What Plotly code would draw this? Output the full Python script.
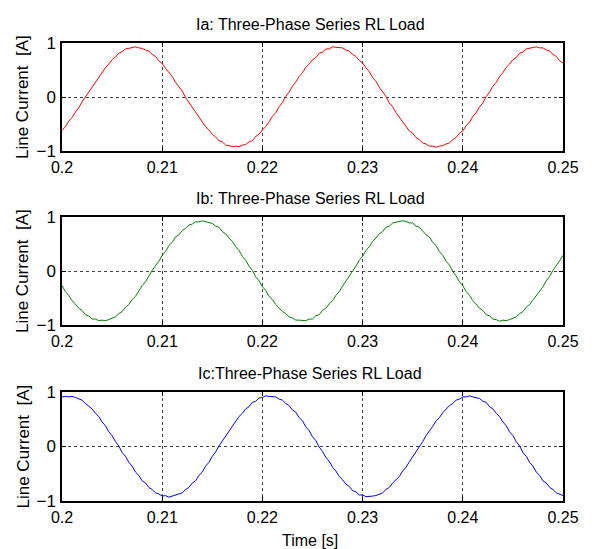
import numpy as np
import plotly.graph_objects as go

ia = [-0.62, -0.55, -0.45, -0.38, -0.28, -0.20, -0.09, 0.00, 0.11, 0.19, 0.29, 0.36, 0.47, 0.54, 0.61, 0.69, 0.74, 0.81, 0.84, 0.89,
      0.90, 0.92, 0.93, 0.91, 0.90, 0.87, 0.85, 0.79, 0.75, 0.67, 0.62, 0.53, 0.46, 0.38, 0.27, 0.19, 0.11, -0.01, -0.10, -0.20,
      -0.28, -0.38, -0.45, -0.55, -0.61, -0.69, -0.74, -0.81, -0.83, -0.89, -0.90, -0.92, -0.91, -0.92, -0.89, -0.88, -0.83, -0.81, -0.73, -0.69,
      -0.61, -0.55, -0.46, -0.36, -0.29, -0.18, -0.10, 0.01, 0.09, 0.20, 0.28, 0.38, 0.45, 0.55, 0.61, 0.69, 0.73, 0.81, 0.83, 0.89,
      0.89, 0.93, 0.92, 0.92, 0.91, 0.87, 0.85, 0.79, 0.75, 0.68, 0.63, 0.54, 0.47, 0.36, 0.29, 0.18, 0.10, 0.01, -0.11, -0.18,
      -0.29, -0.37, -0.47, -0.53, -0.63, -0.67, -0.75, -0.79, -0.85, -0.87, -0.91, -0.91, -0.93, -0.91, -0.90, -0.87, -0.85, -0.79, -0.75, -0.67,
      -0.63, -0.53, -0.47, -0.36, -0.29, -0.18, -0.11, 0.01, 0.09, 0.20, 0.27, 0.38, 0.45, 0.55, 0.61, 0.69, 0.73, 0.81, 0.83, 0.89,
      0.90, 0.92, 0.93, 0.91, 0.91, 0.87, 0.85, 0.79, 0.75, 0.67, 0.63]

ib = [-0.27, -0.38, -0.45, -0.55, -0.61, -0.69, -0.73, -0.81, -0.83, -0.89, -0.89, -0.92, -0.91, -0.92, -0.90, -0.87, -0.85, -0.79, -0.75, -0.67,
      -0.62, -0.53, -0.47, -0.37, -0.27, -0.20, -0.09, 0.01, 0.10, 0.18, 0.29, 0.36, 0.47, 0.53, 0.63, 0.67, 0.75, 0.79, 0.85, 0.87,
      0.91, 0.91, 0.93, 0.91, 0.90, 0.88, 0.83, 0.81, 0.73, 0.69, 0.61, 0.55, 0.45, 0.38, 0.27, 0.20, 0.09, 0.01, -0.11, -0.18,
      -0.29, -0.36, -0.47, -0.53, -0.62, -0.68, -0.75, -0.79, -0.85, -0.87, -0.91, -0.91, -0.92, -0.92, -0.89, -0.89, -0.83, -0.81, -0.73, -0.69,
      -0.61, -0.55, -0.45, -0.38, -0.28, -0.19, -0.11, 0.00, 0.09, 0.20, 0.27, 0.38, 0.45, 0.55, 0.61, 0.69, 0.73, 0.81, 0.83, 0.89,
      0.90, 0.92, 0.93, 0.92, 0.89, 0.89, 0.83, 0.81, 0.74, 0.67, 0.63, 0.53, 0.47, 0.36, 0.29, 0.18, 0.11, -0.01, -0.09, -0.20,
      -0.27, -0.38, -0.45, -0.55, -0.61, -0.69, -0.73, -0.81, -0.83, -0.89, -0.90, -0.93, -0.91, -0.92, -0.90, -0.87, -0.85, -0.79, -0.75, -0.67,
      -0.62, -0.54, -0.46, -0.37, -0.29, -0.18, -0.10, 0.01, 0.09, 0.19, 0.29]

ic = [0.91, 0.92, 0.91, 0.92, 0.90, 0.87, 0.85, 0.79, 0.74, 0.69, 0.61, 0.55, 0.45, 0.38, 0.27, 0.20, 0.09, 0.01, -0.11, -0.18,
      -0.29, -0.36, -0.47, -0.53, -0.63, -0.67, -0.75, -0.79, -0.85, -0.87, -0.91, -0.90, -0.93, -0.91, -0.90, -0.87, -0.85, -0.79, -0.75, -0.67,
      -0.63, -0.53, -0.47, -0.36, -0.29, -0.18, -0.10, 0.01, 0.10, 0.18, 0.29, 0.37, 0.45, 0.55, 0.61, 0.69, 0.73, 0.81, 0.83, 0.89,
      0.90, 0.93, 0.92, 0.91, 0.91, 0.87, 0.85, 0.79, 0.75, 0.67, 0.63, 0.53, 0.47, 0.36, 0.29, 0.18, 0.11, -0.01, -0.09, -0.20,
      -0.27, -0.38, -0.45, -0.55, -0.61, -0.69, -0.73, -0.81, -0.83, -0.89, -0.89, -0.92, -0.92, -0.91, -0.90, -0.87, -0.85, -0.79, -0.75, -0.67,
      -0.61, -0.55, -0.45, -0.38, -0.28, -0.19, -0.11, 0.00, 0.09, 0.20, 0.28, 0.37, 0.47, 0.53, 0.62, 0.68, 0.75, 0.79, 0.85, 0.87,
      0.91, 0.91, 0.93, 0.91, 0.90, 0.88, 0.83, 0.81, 0.73, 0.69, 0.61, 0.55, 0.45, 0.38, 0.27, 0.20, 0.09, 0.01, -0.11, -0.18,
      -0.29, -0.36, -0.47, -0.53, -0.63, -0.67, -0.75, -0.79, -0.85, -0.87, -0.90]

t_start, t_end = 0.2, 0.25
time = np.linspace(t_start, t_end, len(ia))

titles = ["Ia: Three-Phase Series RL Load", "Ib: Three-Phase Series RL Load", "Ic:Three-Phase Series RL Load"]
series = [ia, ib, ic]
colors = ["#ff0000", "#008000", "#0000ff"]
x_ticks = [0.2, 0.21, 0.22, 0.23, 0.24, 0.25]
x_tick_text = ["0.2", "0.21", "0.22", "0.23", "0.24", "0.25"]
y_ticks = [-1, 0, 1]

# page has an 8px body margin: the figure is drawn 8px smaller and offset
OFF = 8
W, H = 597 - OFF, 549 - OFF
boxes = [(43 - OFF, 151 - OFF), (217 - OFF, 325 - OFF), (392 - OFF, 501 - OFF)]
left_px, right_px = 62 - OFF, 563 - OFF
title_y_px = [25 - OFF, 198 - OFF, 373 - OFF]
ylab_x = 23 - OFF
title_x = 310 - OFF
xlab_y = 540 - OFF

FONT = "Liberation Sans, Arial, sans-serif"

fig = go.Figure()
layout = dict(
    template="none",
    width=W, height=H,
    margin=dict(l=0, r=0, t=0, b=0, autoexpand=False),
    paper_bgcolor="white", plot_bgcolor="white",
    showlegend=False,
    font=dict(family=FONT, size=16, color="black"),
)
annotations = []
for i, (ys, col) in enumerate(zip(series, colors)):
    n = "" if i == 0 else str(i + 1)
    fig.add_trace(go.Scatter(x=time, y=ys, mode="lines", line=dict(color=col, width=1),
                             xaxis="x" + n, yaxis="y" + n))
    top, bot = boxes[i]
    layout["xaxis" + n] = dict(
        domain=[left_px / W, right_px / W], range=[t_start, t_end], anchor="y" + n,
        tickvals=x_ticks, ticktext=x_tick_text, ticks="inside", ticklen=4, tickcolor="black",
        showline=True, linecolor="black", linewidth=1.5, mirror="ticks",
        showgrid=True, gridcolor="#444444", griddash="dot", gridwidth=1,
        zeroline=False, automargin=False, ticklabelstandoff=1,
        tickfont=dict(size=16, family=FONT),
    )
    layout["yaxis" + n] = dict(
        domain=[1 - bot / H, 1 - top / H], range=[-1, 1], anchor="x" + n,
        tickvals=y_ticks, ticks="inside", ticklen=4, tickcolor="black",
        showline=True, linecolor="black", linewidth=1.5, mirror="ticks",
        showgrid=True, gridcolor="#444444", griddash="dot", gridwidth=1,
        zeroline=False, automargin=False, ticklabelstandoff=1,
        tickfont=dict(size=17, family=FONT),
    )
    annotations.append(dict(text=titles[i], x=title_x / W, y=1 - title_y_px[i] / H,
                            xref="paper", yref="paper", showarrow=False,
                            font=dict(size=16, family=FONT), xanchor="center", yanchor="middle"))
    annotations.append(dict(text="Line Current  [A]", x=ylab_x / W, y=1 - (top + bot) / 2 / H,
                            xref="paper", yref="paper", showarrow=False, textangle=-90,
                            font=dict(size=17, family=FONT), xanchor="center", yanchor="middle"))

annotations.append(dict(text="Time [s]", x=title_x / W, y=1 - xlab_y / H,
                        xref="paper", yref="paper", showarrow=False,
                        font=dict(size=16, family=FONT), xanchor="center", yanchor="middle"))
layout["annotations"] = annotations
fig.update_layout(**layout)
fig.write_html("out.html")
